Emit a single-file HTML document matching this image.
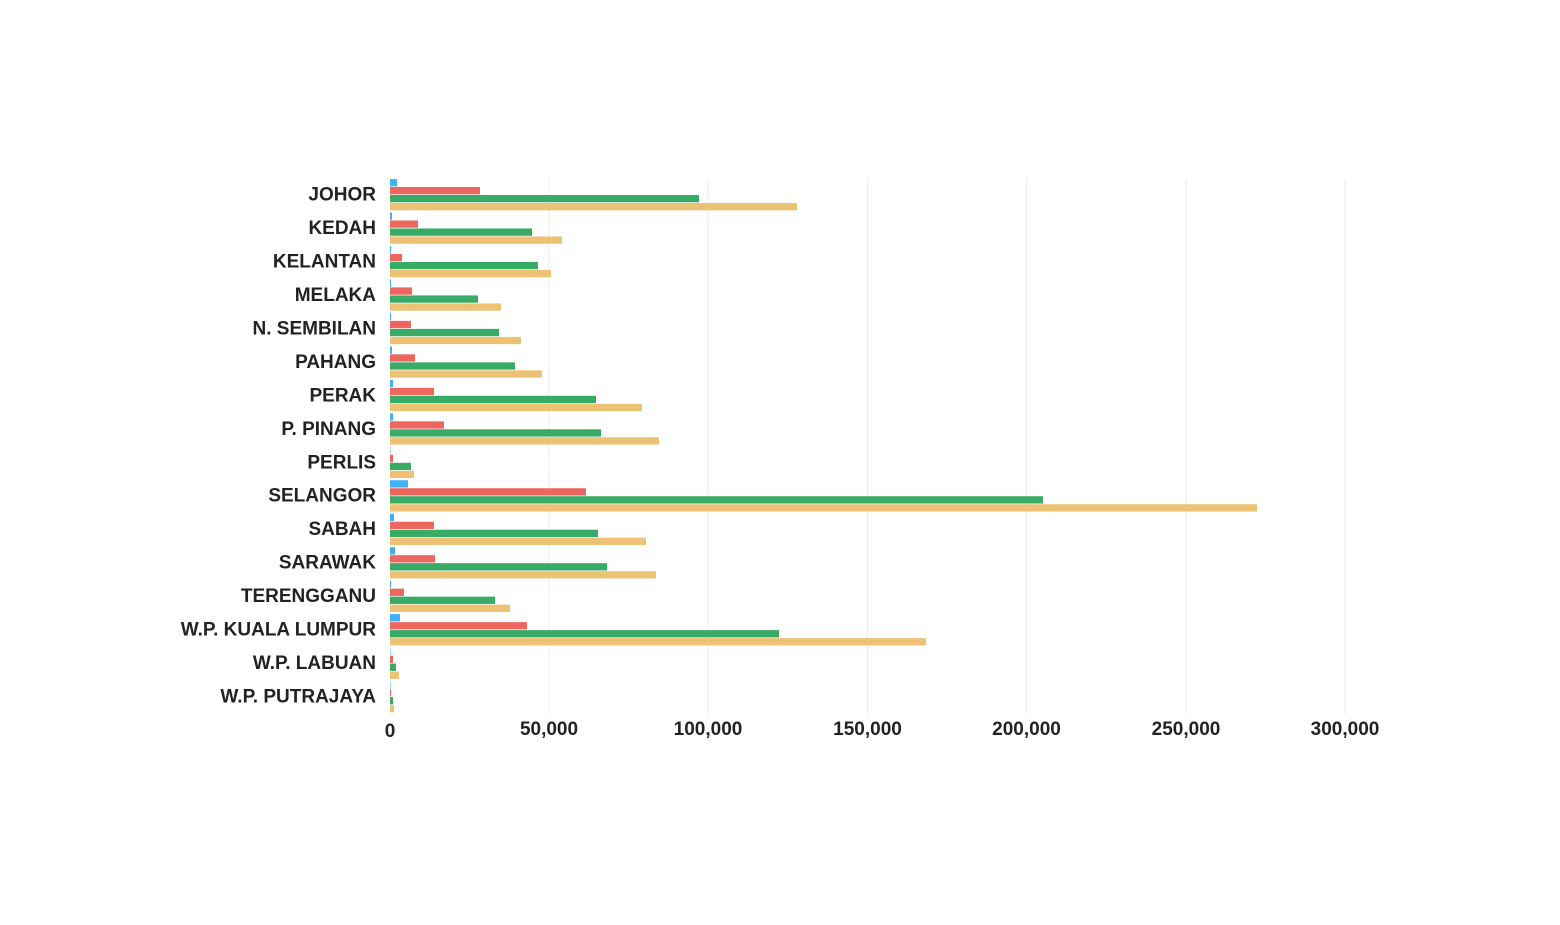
<!DOCTYPE html><html><head><style>body{margin:0;background:#fff}</style></head><body>
<svg width="1560" height="920" xmlns="http://www.w3.org/2000/svg" font-family="Liberation Sans, sans-serif" font-weight="bold" font-size="19" fill="#222">
<g stroke="#ebebeb" stroke-width="1">
<line x1="549" y1="179" x2="549" y2="714"/><line x1="708" y1="179" x2="708" y2="714"/><line x1="867.5" y1="179" x2="867.5" y2="714"/><line x1="1026.5" y1="179" x2="1026.5" y2="714"/><line x1="1186" y1="179" x2="1186" y2="714"/><line x1="1345" y1="179" x2="1345" y2="714"/>
</g>
<g text-anchor="middle">
<text x="390" y="737">0</text><text x="549" y="735">50,000</text><text x="708" y="735">100,000</text><text x="867.5" y="735">150,000</text><text x="1026.5" y="735">200,000</text><text x="1186" y="735">250,000</text><text x="1345" y="735">300,000</text>
</g>
<g id="bars"></g>
<g id="labels" text-anchor="end"></g>
<script>
var d=[["JOHOR",397,480,699,797],["KEDAH",392,418,532,562],["KELANTAN",391,402,538,551],["MELAKA",391,412,478,501],["N. SEMBILAN",391,411,499,521],["PAHANG",392,415,515,542],["PERAK",393,434,596,642],["P. PINANG",393,444,601,659],["PERLIS",390.5,393,411,414],["SELANGOR",408,586,1043,1257],["SABAH",394,434,598,646],["SARAWAK",395,435,607,656],["TERENGGANU",391,404,495,510],["W.P. KUALA LUMPUR",400,527,779,926],["W.P. LABUAN",390.5,393,396,399],["W.P. PUTRAJAYA",390.5,391,393,394]];
var c=["#3fb1f5","#ee6660","#38ab67","#eec275"];
var ns="http://www.w3.org/2000/svg",b=document.getElementById("bars"),l=document.getElementById("labels");
d.forEach(function(r,i){var y0=179+i*33.47;
for(var k=0;k<4;k++){var e=document.createElementNS(ns,"rect");e.setAttribute("x",390);e.setAttribute("y",y0+k*8);e.setAttribute("width",Math.max(r[k+1]-390,0.5));e.setAttribute("height",7.3);e.setAttribute("fill",c[k]);b.appendChild(e);}
var t=document.createElementNS(ns,"text");t.setAttribute("x",376);t.setAttribute("y",y0+21.5);t.textContent=r[0];l.appendChild(t);});
</script>
</svg></body></html>
